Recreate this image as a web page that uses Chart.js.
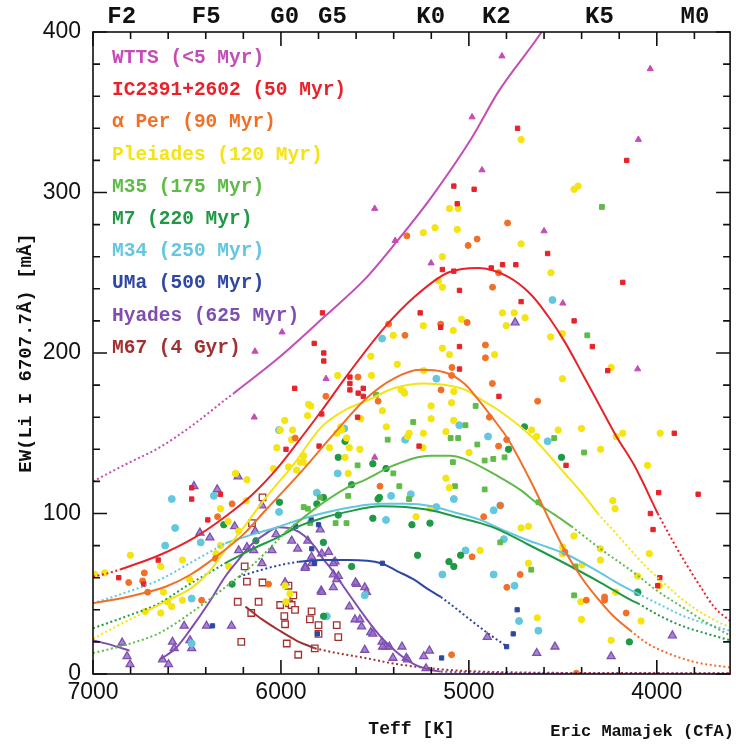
<!DOCTYPE html>
<html>
<head>
<meta charset="utf-8">
<script src="https://cdn.jsdelivr.net/npm/chart.js@4/dist/chart.umd.min.js"></script>
<style>
html,body{margin:0;padding:0;background:#fff;}
canvas{display:block;}
</style>
</head>
<body>
<canvas id="c" width="736" height="747"></canvas>
<script>
// ---------- tick labels ----------
const xTickLabels = [7000, 6000, 5000, 4000];
const yTickLabels = [0, 100, 200, 300, 400];
const specNames = ['F2', 'F5', 'G0', 'G5', 'K0', 'K2', 'K5', 'M0'];
const specTeff = [6847, 6398, 5980, 5726, 5203, 4854, 4305, 3797];

// ---------- legend / series names ----------
const seriesNames = ['WTTS (<5 Myr)', 'IC2391+2602 (50 Myr)', 'α Per (90 Myr)', 'Pleiades (120 Myr)',
  'M35 (175 Myr)', 'M7 (220 Myr)', 'M34 (250 Myr)', 'UMa (500 Myr)', 'Hyades (625 Myr)', 'M67 (4 Gyr)'];

// ---------- data points [Teff, EW] ----------
const wttsPts = [[4824,385],[4035,377],[4983,347],[4930,314],[4098,333],[5501,290],[5392,270],[4600,276],[5201,256],[4500,231],[4102,190],[5994,213],[6138,201],[5760,184],[6142,160],[5501,135]];
const ic2391Pts = [[4741,340],[4160,320],[5080,304],[4972,302],[5062,293],[4581,262],[5141,252],[5080,251],[4881,253],[4821,255],[4750,255],[5050,239],[4181,244],[4722,232],[5259,225],[5150,216],[4440,220],[4343,204],[5050,204],[5050,190],[4261,189],[4840,173],[3907,150],[3780,112],[3990,113],[4483,130],[4034,100],[4020,90],[3984,60],[3995,55],[5265,142],[5779,225],[5823,206],[5772,200],[5772,195],[5927,178],[5633,185],[5633,181],[5633,177],[5562,178],[5589,175],[5562,173],[5783,162],[5592,160],[6475,116],[6475,109],[6322,112],[6389,96],[6653,71],[6730,56],[6863,60],[5973,140],[5797,142]];
const aPerPts = [[4794,281],[5330,273],[4956,271],[5004,267],[4842,250],[4874,241],[5427,218],[5340,211],[5150,218],[5009,219],[4912,205],[4912,197],[5090,191],[4875,181],[5761,173],[5590,185],[5092,186],[5148,177],[5483,170],[5924,147],[4634,170],[4891,160],[4842,142],[4799,146],[5473,117],[4921,98],[4833,105],[4983,73],[4798,54],[4727,62],[4489,76],[4375,46],[4278,48],[4278,46],[4163,38],[5092,12],[4428,0.5],[6727,63],[6736,58],[6709,51],[6810,57],[6422,46],[6348,72],[6337,98],[6260,106],[6066,56]];
const pleiadesPts = [[4722,333],[4440,302],[4419,304],[5103,290],[5057,290],[5242,275],[5180,278],[5062,277],[4722,268],[5141,260],[4563,250],[5162,245],[5141,241],[5522,198],[5402,211],[5242,217],[5039,221],[5083,214],[4821,225],[4759,225],[4801,217],[4701,222],[4565,210],[4503,212],[5141,203],[5103,199],[4863,199],[5381,193],[4243,191],[5698,186],[5518,186],[4502,184],[5240,189],
  [5853,168],[5347,176],[5201,167],[5092,169],[5360,177],[5342,175],[5080,176],[5841,167],[5980,158],[5938,152],[5858,161],[5575,159],[5682,154],[5460,164],[5439,154],[5201,159],[5081,158],[5242,150],[5122,151],[5318,150],[5326,148],[5244,141],[5897,132],[5880,136],[5703,150],[5742,141],[5659,135],[5642,125],[5636,141],[5580,140],[5677,152],[4999,138],[5122,122],[5104,116],[4666,152],[4639,148],[4525,152],[4401,153],[4216,148],[4181,150],[3982,150],[4049,130],[4299,140],[6004,152],[6022,141],[5943,146],[6040,128],[5960,129],[5916,127],[5881,132],[6242,125],[6181,121],[5650,147],
  [5281,98],[5205,103],[4940,77],[4722,91],[4683,92],[4683,69],[4398,68],[4234,108],[4222,103],[4102,61],[4040,75],[3987,55],[4084,33],[4243,21],[4636,35],[4401,34],[4501,79],[4502,75],[4441,86],[4300,78],[4300,71],[4219,51],[4404,45],[6184,108],[6322,103],[6281,95],[6225,89],[6322,80],[6345,75],[6524,71],[6486,59],[6524,46],[6639,67],[6801,74],[6938,63],[6991,62],[6625,51],[6604,45],[6581,42],[6722,39],[6639,38],[6278,67],[5978,55],[5973,45],[5952,50]];
const m35Pts = [[4292,291],[4370,211],[4964,167],[5494,174],[5296,157],[5432,146],[5402,125],[5370,117],[5318,109],[5097,147],[5057,147],[5085,132],[5074,117],[5018,155],[4916,133],[4916,115],[4810,135],[4833,82],[4630,107],[4387,138],[4440,49],[4546,147],[4955,143],[5592,130],[5642,111],[5709,94],[5651,94],[5857,103],[5793,110],[4870,134],[4668,65],[4432,67],[5879,104],[5844,94]];
const m7Pts = [[4704,154],[4789,140],[4507,135],[5511,131],[5441,128],[5476,110],[5511,97],[5303,93],[5207,94],[5273,74],[5106,70],[5080,67],[5044,74],[4146,20],[4102,51],[5695,135],[5659,145],[5774,110],[5809,106],[5624,118],[5695,99],[5483,109],[5624,67],[5774,82],[6008,107],[6304,93],[6260,56],[6133,83],[5773,36]];
const m34Pts = [[5462,209],[4555,233],[5173,184],[5663,153],[5051,155],[5339,146],[4581,145],[4898,148],[5414,111],[5309,112],[5080,109],[5173,104],[5441,96],[4868,102],[4833,105],[5018,77],[5141,62],[4868,62],[4757,55],[4733,33],[4630,27],[4102,51],[5809,113],[5698,125],[5554,49],[5756,36],[4814,84],[6581,109],[6563,91],[6616,80],[6475,47],[6427,82],[6357,111],[6010,152],[6010,101],[6475,19]];
const umaPts = [[5839,96],[5800,93],[5922,92],[5836,78],[5821,69],[5806,25],[5460,69],[5145,10],[4799,17],[4764,25],[4743,40],[6364,30]];
const hyadesPts = [[6463,117],[6339,115],[6228,123],[6431,88],[6378,85],[6246,92],[6225,77],[6181,79],[6145,77],[6101,105],[6101,69],[6137,89],[6048,77],[6026,87],[5943,83],[5911,78],[5837,73],[6396,30],[6515,30],[6263,30],[6577,20],[6484,21],[6475,16],[6568,16],[6630,9],[6598,6],[6845,19.5],[6819,11],[6803,6],[5978,57],[5791,90],[5870,67],[5747,76],[5712,70],[5694,61],[5786,52],[5597,56],[5606,34],[5857,83],[5783,75],[5721,69],[5871,66],[5836,69],[5721,62],[5703,59],[5721,54],[5783,51],[5603,57],[5554,54],[5545,51],[5636,42],[5580,34],[5571,29.5],[5522,26],[5554,15],[5462,20],[5444,17],[5356,17],[5404,10],[5333,10],[5240,11],[5210,14.5],[5228,3.5],[4902,23],[5511,25],[5459,17],[5423,17],[5326,9],[4639,13],[4542,17],[4243,11],[3917,24],[4754,219]];
const m67Pts = [[6098,110],[6154,94],[6193,67],[6181,57.5],[6098,57],[6230,45],[6119,45],[6158,38],[6211,20],[5960,55],[5934,49],[5957,44],[6004,43],[5943,43],[5925,40],[5982,36],[5978,31],[5969,19],[5908,12],[5837,39],[5846,34],[5820,16],[5800,30.5],[5800,25],[5695,23],[5703,30.5]];

// ---------- fitted curves [Teff, EW] (Dot = dotted extrapolation) ----------
const wttsFitDot = [[7000,120],[6820,131],[6648,141],[6470,155],[6295,171],[6250,175]];
const wttsFit = [[6250,175],[6012,197],[5765,223],[5553,246],[5380,270],[5200,297],[4990,333],[4842,363],[4613,400],[4550,412]];
const ic2391FitDot1 = [[7000,60.6],[6930,62.5],[6857,65]];
const ic2391Fit = [[6857,65],[6648,74],[6460,85],[6297,98],[6150,112],[6013,129],[5900,146],[5784,164],[5642,187],[5448,216],[5289,235],[5113,250],[4950,253],[4800,248],[4666,236],[4567,221],[4485,206],[4391,186],[4303,167],[4215,148],[4120,130],[3995,100]];
const ic2391FitDot2 = [[3995,100],[3916,83],[3836,67],[3760,53],[3697,42],[3610,33]];
const aPerFit = [[7000,44],[6800,48.5],[6611,54.5],[6480,62],[6346,73],[6200,87],[6082,102],[5900,125],[5730,148],[5552,171],[5400,184],[5260,189.5],[5130,188],[5025,181],[4950,171],[4877,160],[4790,146],[4666,119],[4580,98],[4490,77],[4400,60],[4314,47],[4230,36],[4140,27]];
const aPerFitDot = [[4140,27],[4050,19],[3942,13],[3800,7.5],[3610,4]];
const pleiadesFitDot1 = [[7000,22],[6870,30],[6735,38]];
const pleiadesFit = [[6735,38],[6600,46],[6471,54],[6380,64],[6297,77],[6200,91],[6119,104],[6030,117],[5943,129],[5784,154],[5650,165],[5547,170],[5400,178],[5240,181],[5120,180],[5018,177],[4950,172],[4844,164.5],[4666,148],[4490,125],[4400,113],[4314,100]];
const pleiadesFitDot2 = [[4314,100],[4220,88],[4137,77],[4050,66],[3961,56.5],[3870,47],[3787,40],[3700,34],[3610,29]];
const m35FitDot1 = [[7000,13],[6800,19],[6648,25.5],[6480,38],[6297,54],[6150,68],[6033,81.5],[5980,88]];
const m35Fit = [[5980,88],[5906,95],[5784,106],[5650,116],[5553,121],[5400,130],[5203,136],[5100,136],[5025,134],[4842,123],[4730,115],[4632,106],[4540,99],[4454,92]];
const m35FitDot2 = [[4454,92],[4300,78],[4120,63],[4000,52],[3855,41],[3750,33],[3610,24]];
const m7FitDot1 = [[7000,28.5],[6820,36],[6648,44],[6500,55],[6383,63],[6297,69]];
const m7Fit = [[6297,69],[6150,78],[6000,86],[5906,92],[5784,97],[5650,101],[5467,104.5],[5340,104],[5203,102],[5070,98],[4939,94],[4842,90],[4690,81],[4490,69],[4300,57],[4137,46],[4100,44]];
const m7FitDot2 = [[4100,44],[3980,36],[3855,29.5],[3730,25],[3610,21]];
const m34FitDot1 = [[7000,44],[6820,51],[6648,58.6],[6470,70],[6297,81.4]];
const m34Fit = [[6297,81.4],[6150,87],[6033,91],[5906,96],[5784,100],[5620,104],[5467,106],[5340,106],[5203,104.7],[5070,100.5],[4939,96],[4823,90],[4690,83.5],[4580,79],[4471,74],[4300,63],[4200,56],[4100,50]];
const m34FitDot2 = [[4100,50],[3980,43],[3855,36],[3730,31],[3610,27]];
const umaFitDot1 = [[6224,60.6],[6100,65],[6000,68],[5906,70]];
const umaFit = [[5906,70],[5780,71],[5642,71],[5467,69],[5380,64],[5289,58.6],[5220,53],[5149,48]];
const umaFitDot2 = [[5149,48],[5070,41],[4991,33.6],[4900,25.5],[4796,17]];
const hyadesFitA = [[7000,21],[6900,18],[6806,14.5]];
const hyadesFit = [[6648,8.7],[6560,16],[6471,29.5],[6380,45],[6297,60.6],[6220,72],[6154,81],[6080,87.5],[6012,91.5],[5940,90.5],[5874,86],[5818,79],[5784,73],[5730,65],[5640,50],[5553,35.7],[5460,22],[5377,12.9],[5290,6],[5203,2.5],[5150,1.5]];
const hyadesFitDot = [[5150,1.5],[4900,0.7],[4500,0.4],[4000,0.3],[3610,0.3]];
const m67Fit = [[6189,42],[6100,34],[6013,27.4],[5920,21],[5820,16]];
const m67FitDot = [[5820,16],[5700,13],[5553,10],[5400,6.5],[5203,3.5],[5000,1.8],[4700,0.9],[4200,0.6],[3610,0.5]];

// ---------- styling per series ----------
const seriesColors = ['#c44db5', '#e8222b', '#f07028', '#f4e412', '#5fbb47', '#1f9945', '#62c7df', '#2d47a3', '#7e4fb0', '#a33030'];

const toXY = arr => arr.map(([x, y]) => ({x, y}));

function lineDs(arr, color, dotted) {
  return {
    data: toXY(arr), showLine: true, pointRadius: 0, pointHoverRadius: 0,
    borderColor: color, borderWidth: 2, borderDash: dotted ? [2, 2.6] : [],
    fill: false, cubicInterpolationMode: 'monotone'
  };
}
function ptDs(arr, style, r, bg, border, bw) {
  return {
    data: toXY(arr), showLine: false, pointStyle: style, pointRadius: r, pointHoverRadius: r,
    backgroundColor: bg, borderColor: border, borderWidth: bw
  };
}
const C = seriesColors;
const datasets = [
  // lines (drawn on top)
  lineDs(wttsFitDot, C[0], true), lineDs(wttsFit, C[0], false),
  lineDs(ic2391FitDot1, C[1], true), lineDs(ic2391Fit, C[1], false), lineDs(ic2391FitDot2, C[1], true),
  lineDs(aPerFit, C[2], false), lineDs(aPerFitDot, C[2], true),
  lineDs(pleiadesFitDot1, C[3], true), lineDs(pleiadesFit, C[3], false), lineDs(pleiadesFitDot2, C[3], true),
  lineDs(m35FitDot1, C[4], true), lineDs(m35Fit, C[4], false), lineDs(m35FitDot2, C[4], true),
  lineDs(m7FitDot1, C[5], true), lineDs(m7Fit, C[5], false), lineDs(m7FitDot2, C[5], true),
  lineDs(m34FitDot1, C[6], true), lineDs(m34Fit, C[6], false), lineDs(m34FitDot2, C[6], true),
  lineDs(umaFitDot1, C[7], true), lineDs(umaFit, C[7], false), lineDs(umaFitDot2, C[7], true),
  lineDs(hyadesFitA, C[8], false), lineDs(hyadesFit, C[8], false), lineDs(hyadesFitDot, C[8], true),
  lineDs(m67Fit, C[9], false), lineDs(m67FitDot, C[9], true),
  // points
  ptDs(wttsPts, 'triangle', 3.6, C[0], C[0], 1),
  ptDs(umaPts, 'rect', 3.0, C[7], C[7], 1),
  ptDs(ic2391Pts, 'rect', 3.1, C[1], C[1], 1),
  ptDs(aPerPts, 'circle', 3.0, C[2], C[2], 1),
  ptDs(pleiadesPts, 'circle', 3.2, C[3], C[3], 1),
  ptDs(m35Pts, 'rect', 3.4, C[4], C[4], 1),
  ptDs(m7Pts, 'circle', 3.2, C[5], C[5], 1),
  ptDs(m34Pts, 'circle', 3.5, C[6], C[6], 1),
  ptDs(hyadesPts, 'triangle', 4.6, 'rgba(150,110,205,0.85)', C[8], 1.3),
  ptDs(m67Pts, 'rect', 4.6, '#ffffff', C[9], 1.3)
];

const framePlugin = {
  id: 'frame',
  afterDatasetsDraw(chart) {
    const {ctx, chartArea: a, scales} = chart;
    const x = scales.x, y = scales.y;
    ctx.save();
    ctx.strokeStyle = '#111';
    ctx.lineWidth = 1.6;
    ctx.strokeRect(a.left, a.top, a.right - a.left, a.bottom - a.top);
    ctx.beginPath();
    for (let v = 3800; v <= 7000; v += 200) {
      const px = x.getPixelForValue(v);
      if (px < a.left - 0.5 || px > a.right + 0.5) continue;
      const L = v % 1000 === 0 ? 14 : 7;
      ctx.moveTo(px, a.bottom); ctx.lineTo(px, a.bottom - L);
      ctx.moveTo(px, a.top); ctx.lineTo(px, a.top + L);
    }
    for (let v = 0; v <= 400; v += 20) {
      const py = y.getPixelForValue(v);
      const L = v % 100 === 0 ? 14 : 7;
      ctx.moveTo(a.left, py); ctx.lineTo(a.left + L, py);
      ctx.moveTo(a.right, py); ctx.lineTo(a.right - L, py);
    }
    ctx.stroke();
    // legend text
    ctx.font = 'bold 19.5px "Liberation Mono"';
    ctx.textAlign = 'left';
    ctx.textBaseline = 'middle';
    seriesNames.forEach((n, i) => {
      ctx.fillStyle = seriesColors[i];
      ctx.fillText(n, a.left + 19, a.top + 26 + i * 32.2);
    });
    // credit
    ctx.font = 'bold 17px "Liberation Mono"';
    ctx.fillStyle = '#111';
    ctx.textAlign = 'right';
    ctx.fillText('Eric Mamajek (CfA)', chart.width - 2, 732);
    ctx.restore();
  }
};

new Chart(document.getElementById('c'), {
  type: 'scatter',
  data: {datasets},
  plugins: [framePlugin],
  options: {
    responsive: false, animation: false, devicePixelRatio: 1,
    layout: {padding: {left: 0, right: 1, top: 0, bottom: 0}},
    plugins: {legend: {display: false}, tooltip: {enabled: false}},
    scales: {
      x: {
        type: 'linear', position: 'bottom', min: 3610, max: 7000, reverse: true,
        grid: {display: false, drawTicks: false}, border: {display: false},
        ticks: {font: {family: 'Liberation Sans', size: 23}, color: '#111', padding: 5, autoSkip: false, maxRotation: 0,
          callback: v => String(v)},
        title: {display: true, text: 'Teff [K]', color: '#111', font: {family: 'Liberation Mono', weight: 'bold', size: 18}, padding: {top: 0, bottom: 7}},
        afterBuildTicks(s) { s.ticks = xTickLabels.map(v => ({value: v})); },
        afterFit(s) { s.height = 73; }
      },
      xTop: {
        type: 'linear', position: 'top', min: 3610, max: 7000, reverse: true,
        grid: {display: false, drawTicks: false}, border: {display: false},
        ticks: {font: {family: 'Liberation Mono', weight: 'bold', size: 24}, color: '#111', padding: 1, autoSkip: false, maxRotation: 0,
          callback: v => specNames[specTeff.indexOf(v)]},
        afterBuildTicks(s) { s.ticks = specTeff.map(v => ({value: v})); },
        afterFit(s) { s.height = 32; }
      },
      y: {
        type: 'linear', position: 'left', min: 0, max: 400,
        grid: {display: false, drawTicks: false}, border: {display: false},
        ticks: {font: {family: 'Liberation Sans', size: 23}, color: '#111', padding: 12, callback: v => String(v)},
        title: {display: true, text: 'EW(Li I 6707.7Å) [mÅ]', color: '#111', font: {family: 'Liberation Mono', weight: 'bold', size: 19}, padding: {top: 14.5, bottom: 0}},
        afterBuildTicks(s) { s.ticks = yTickLabels.map(v => ({value: v})); },
        afterFit(s) { s.width = 93; }
      }
    }
  }
});
</script>
</body>
</html>
